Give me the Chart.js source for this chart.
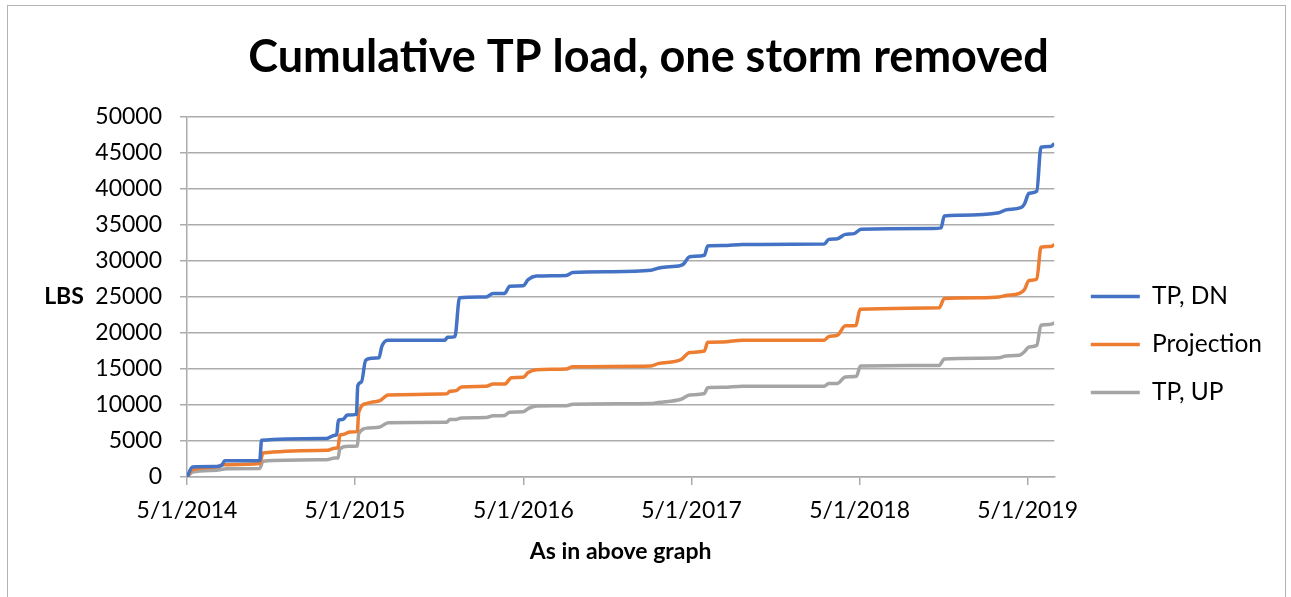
<!DOCTYPE html>
<html>
<head>
<meta charset="utf-8">
<title>Cumulative TP load, one storm removed</title>
<script src="https://cdn.jsdelivr.net/npm/chart.js@4"></script>
<style>
    html, body { margin: 0; padding: 0; background: #fff; }
    #wrap { position: relative; width: 1291px; height: 597px; overflow: hidden; }
    #frame { position: absolute; left: 7px; top: 5px; width: 1279px; height: 640px; border: 1.5px solid #b4b4b4; box-sizing: border-box; pointer-events: none; }
    canvas { position: absolute; left: 0; top: 0; }
</style>
</head>
<body>
<div id="wrap">
    <canvas id="loadChart" width="1291" height="597"></canvas>
    <div id="frame"></div>
</div>
<script>
// x axis ticks (Excel date axis, one per year)
const tickDates = ['2014-05-01', '2015-05-01', '2016-05-01', '2017-05-01', '2018-05-01', '2019-05-01'];
const tickLabels = ['5/1/2014', '5/1/2015', '5/1/2016', '5/1/2017', '5/1/2018', '5/1/2019'];
const endDate = '2019-06-28';

// TP, DN
const dnDates = ['2014-05-01', '2014-05-13', '2014-07-04', '2014-07-15', '2014-07-22', '2014-10-06', '2014-10-10',
    '2015-02-28', '2015-03-18', '2015-03-22', '2015-03-26', '2015-04-05', '2015-04-14', '2015-05-04', '2015-05-07',
    '2015-05-15', '2015-05-24', '2015-06-06', '2015-06-22', '2015-06-28', '2015-07-11', '2015-11-12', '2015-11-18',
    '2015-12-04', '2015-12-14', '2016-01-27', '2016-02-10', '2016-02-25', '2016-03-21', '2016-04-01', '2016-04-30',
    '2016-05-11', '2016-05-29', '2016-08-02', '2016-08-16', '2016-11-04', '2017-02-02', '2017-02-17', '2017-03-14',
    '2017-04-12', '2017-04-27', '2017-05-29', '2017-06-05', '2017-07-08', '2017-08-20', '2018-02-13', '2018-02-23',
    '2018-03-14', '2018-03-31', '2018-04-19', '2018-05-04', '2018-10-06', '2018-10-25', '2018-11-01', '2018-12-03',
    '2019-02-28', '2019-03-15', '2019-04-16', '2019-04-24', '2019-05-04', '2019-05-21', '2019-05-30', '2019-06-20',
    '2019-06-28'];
const dnLoad = [0, 1400, 1450, 1600, 2250, 2300, 5100,
    5350, 5800, 5900, 7900, 8000, 8600, 8700, 12700,
    13200, 16200, 16500, 16550, 18100, 19000, 19000, 19400,
    19500, 24900, 25000, 25000, 25500, 25500, 26500, 26550,
    27400, 27900, 28000, 28400, 28500, 28700, 29000, 29200,
    29500, 30600, 30800, 32100, 32150, 32300, 32350, 33000,
    33100, 33700, 33800, 34400, 34500, 34600, 36250, 36350,
    36700, 37100, 37400, 37900, 39400, 39700, 45800, 45900,
    46300];

// Projection
const projDates = ['2014-05-01', '2014-05-13', '2014-07-04', '2014-07-18', '2014-10-06', '2014-10-13', '2015-02-28',
    '2015-03-18', '2015-03-25', '2015-03-29', '2015-04-05', '2015-04-20', '2015-05-06', '2015-05-09', '2015-05-26',
    '2015-06-06', '2015-06-24', '2015-07-12', '2015-11-16', '2015-11-23', '2015-12-07', '2015-12-18', '2016-02-10',
    '2016-02-25', '2016-03-21', '2016-04-05', '2016-04-30', '2016-05-11', '2016-05-29', '2016-08-02', '2016-08-16',
    '2017-02-02', '2017-02-17', '2017-04-08', '2017-04-27', '2017-05-29', '2017-06-05', '2017-07-08', '2017-08-20',
    '2018-02-13', '2018-02-23', '2018-03-14', '2018-03-31', '2018-04-23', '2018-05-02', '2018-10-21', '2018-11-01',
    '2019-01-16', '2019-02-28', '2019-03-15', '2019-04-13', '2019-04-24', '2019-05-04', '2019-05-21', '2019-05-30',
    '2019-06-20', '2019-06-28'];
const projLoad = [0, 1030, 1390, 1700, 1860, 3330, 3700,
    4000, 4100, 5800, 5900, 6250, 6300, 9000, 10200,
    10400, 10600, 11400, 11550, 11900, 12000, 12500, 12600,
    12900, 12900, 13800, 13850, 14500, 14900, 15000, 15300,
    15400, 15750, 16300, 17300, 17500, 18700, 18750, 19000,
    19000, 19500, 19700, 21000, 21050, 23300, 23500, 24800,
    24900, 25000, 25200, 25500, 26000, 27300, 27500, 31900,
    32000, 32300];

// TP, UP
const upDates = ['2014-05-01', '2014-05-13', '2014-07-04', '2014-07-26', '2014-10-06', '2014-10-13', '2015-02-28',
    '2015-03-18', '2015-03-25', '2015-03-29', '2015-04-16', '2015-05-06', '2015-05-09', '2015-05-29', '2015-06-24',
    '2015-07-12', '2015-11-16', '2015-11-23', '2015-12-07', '2015-12-18', '2016-02-10', '2016-02-25', '2016-03-21',
    '2016-04-01', '2016-04-30', '2016-05-11', '2016-05-29', '2016-08-02', '2016-08-16', '2017-02-02', '2017-02-17',
    '2017-04-08', '2017-04-27', '2017-05-29', '2017-06-05', '2017-07-08', '2017-08-20', '2018-02-13', '2018-02-23',
    '2018-03-14', '2018-03-31', '2018-04-24', '2018-05-03', '2018-10-21', '2018-11-01', '2019-01-16', '2019-02-28',
    '2019-03-15', '2019-04-13', '2019-04-24', '2019-05-04', '2019-05-21', '2019-05-30', '2019-06-20', '2019-06-28'];
const upLoad = [0, 700, 930, 1160, 1180, 2200, 2400,
    2650, 2650, 3900, 4260, 4300, 6000, 6800, 6950,
    7550, 7600, 7970, 8000, 8200, 8250, 8500, 8550,
    9000, 9050, 9500, 9870, 9900, 10100, 10200, 10350,
    10800, 11400, 11600, 12400, 12450, 12600, 12600, 12970,
    13000, 13900, 14000, 15400, 15500, 16400, 16500, 16550,
    16800, 16900, 17400, 18050, 18300, 21070, 21200, 21400];

const DAY0 = Date.parse(tickDates[0]);
const toDay = (s) => (Date.parse(s) - DAY0) / 86400000;
const toPoints = (dates, vals) => dates.map((d, i) => ({ x: toDay(d), y: vals[i] }));

const FONT = 'Lato, "Open Sans", sans-serif';
const GRID = '#acacac';

// horizontal "LBS" axis label, as in the Excel chart
const lbsLabel = {
    id: 'lbsLabel',
    afterDraw(chart) {
        const { ctx, chartArea } = chart;
        ctx.save();
        ctx.font = 'bold 23px ' + FONT;
        ctx.fillStyle = '#000';
        ctx.textAlign = 'center';
        ctx.textBaseline = 'middle';
        ctx.fillText('LBS', 64, (chartArea.top + chartArea.bottom) / 2);
        ctx.restore();
    }
};

// Excel puts the legend a bit further right and lower, and centres the title on the whole frame
const layoutNudge = {
    id: 'layoutNudge',
    afterLayout(chart) {
        const lg = chart.legend;
        lg.left += 13;
        lg.right += 13;
        lg.top += 46;
        lg.bottom += 46;
        const tb = chart.titleBlock;
        tb.left += 19;
        tb.right += 19;
    }
};

function lineSet(label, points, color) {
    return {
        label: label,
        data: points,
        borderColor: color,
        backgroundColor: color,
        borderWidth: 3.5,
        pointRadius: 0,
        fill: false,
        cubicInterpolationMode: 'monotone',
        borderJoinStyle: 'round'
    };
}

const ctx = document.getElementById('loadChart').getContext('2d');
const loadChart = new Chart(ctx, {
    type: 'line',
    data: {
        datasets: [
            lineSet('TP, DN', toPoints(dnDates, dnLoad), '#4472C4'),
            lineSet('Projection', toPoints(projDates, projLoad), '#ED7D31'),
            lineSet('TP, UP', toPoints(upDates, upLoad), '#A5A5A5')
        ]
    },
    options: {
        responsive: false,
        animation: false,
        devicePixelRatio: 1,
        layout: { padding: { left: 0, right: 32, top: 0, bottom: 0 } },
        plugins: {
            title: {
                display: true,
                text: 'Cumulative TP load, one storm removed',
                color: '#000',
                font: { family: FONT, size: 45, weight: 'bold' },
                padding: { top: 30, bottom: 33 }
            },
            legend: {
                position: 'right',
                labels: {
                    color: '#000',
                    font: { family: FONT, size: 24.5 },
                    usePointStyle: true,
                    pointStyle: 'line',
                    pointStyleWidth: 49,
                    padding: 23.5
                }
            },
            tooltip: { enabled: false }
        },
        scales: {
            x: {
                type: 'linear',
                min: 0,
                max: toDay(endDate),
                afterFit: (scale) => { scale.height = 120; },
                afterBuildTicks: (scale) => {
                    scale.ticks = tickDates.map(d => ({ value: toDay(d) }));
                },
                ticks: {
                    color: '#000',
                    font: { family: FONT, size: 23 },
                    padding: 12,
                    maxRotation: 0,
                    callback: (value, i) => tickLabels[i]
                },
                grid: { drawOnChartArea: false, color: GRID, lineWidth: 1.5, tickLength: 8 },
                border: { color: GRID, width: 1.5 },
                title: {
                    display: true,
                    text: 'As in above graph',
                    color: '#000',
                    font: { family: FONT, size: 23, weight: 'bold' },
                    padding: { top: 10, bottom: 32 }
                }
            },
            y: {
                min: 0,
                max: 50000,
                afterFit: (scale) => { scale.width = 187; },
                ticks: {
                    stepSize: 5000,
                    color: '#000',
                    font: { family: FONT, size: 23 },
                    padding: 18,
                    callback: (value) => String(value)
                },
                grid: { color: GRID, lineWidth: 1.5, tickLength: 7 },
                border: { color: GRID, width: 1.5 }
            }
        }
    },
    plugins: [lbsLabel, layoutNudge]
});
</script>
</body>
</html>
